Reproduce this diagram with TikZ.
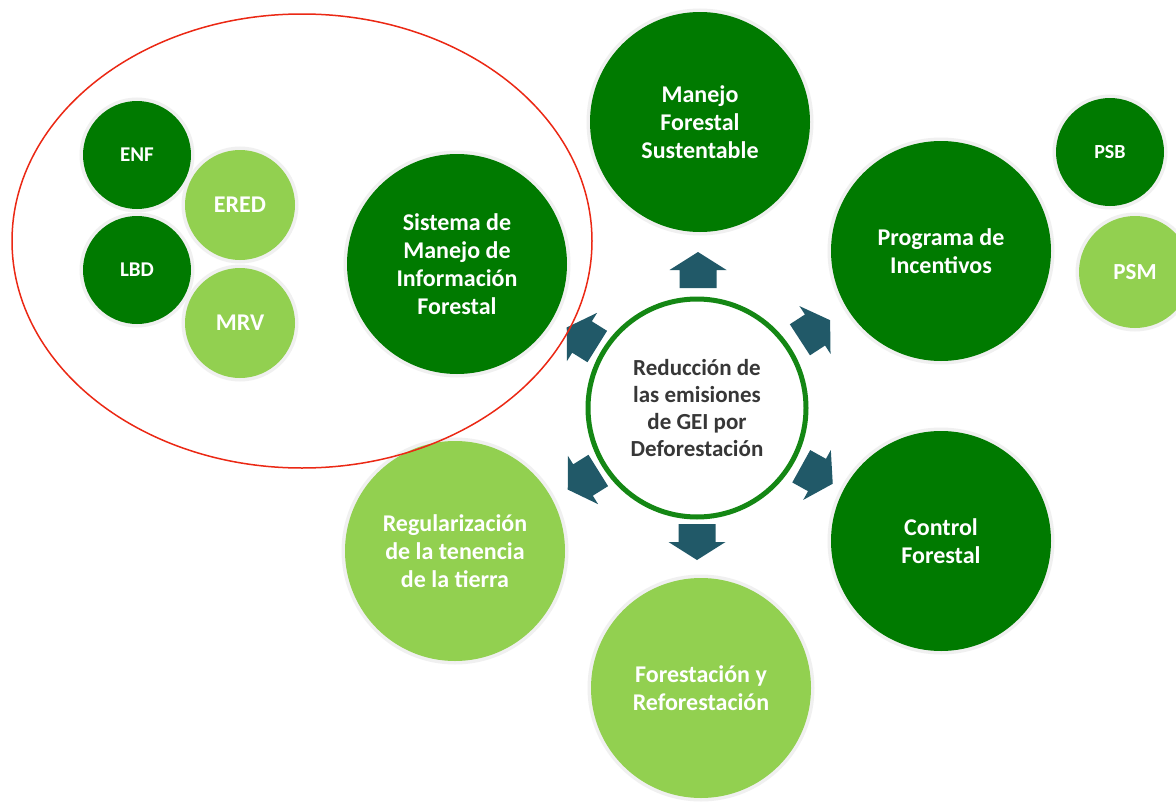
\documentclass[tikz,border=0pt]{standalone}
\usepackage{fontspec}
\setmainfont{Carlito}
\definecolor{dkgreen}{RGB}{0,122,0}
\definecolor{ltgreen}{RGB}{146,208,80}
\definecolor{ringgreen}{RGB}{20,135,20}
\definecolor{arrowteal}{RGB}{33,89,104}
\definecolor{txtgray}{RGB}{55,55,55}
\definecolor{ovalred}{RGB}{235,40,20}
\tikzset{
  bubble/.style={circle, inner sep=0pt, text=white, align=center,
    font=\bfseries\fontsize{24}{28}\selectfont,
    preaction={draw=black!6, line width=7pt}},
  bigdark/.style={bubble, fill=dkgreen, minimum size=220pt},
  biglight/.style={bubble, fill=ltgreen, minimum size=220pt},
  smalldark/.style={bubble, fill=dkgreen, minimum size=108pt, font=\bfseries\fontsize{21}{24}\selectfont},
  smalllight/.style={bubble, fill=ltgreen, minimum size=110pt, font=\bfseries\fontsize{24}{26}\selectfont},
  blockarrow/.style={fill=arrowteal},
}
\newcommand{\blockarr}[2]{%
  \begin{scope}[shift={#1}, rotate=#2]
    \fill[blockarrow] (-18,-18.5) -- (0,-18.5) -- (0,-28.5) -- (18,0) -- (0,28.5) -- (0,18.5) -- (-18,18.5) -- cycle;
  \end{scope}}
\begin{document}
\begin{tikzpicture}[x=1pt,y=1pt]
\useasboundingbox[fill=white] (0,0) rectangle (1176,-803);
% center
\node[circle, draw=ringgreen, line width=5pt, fill=white, minimum size=218pt, inner sep=0pt,
  align=center, text=txtgray, font=\bfseries\fontsize{23}{27}\selectfont] (c) at (697,-408)
  {Reducción de\\las emisiones\\de GEI por\\Deforestación};
% main bubbles
\node[bigdark] (mfs) at (700,-122) {Manejo\\Forestal\\Sustentable};
\node[bigdark] (pi) at (941,-251) {Programa de\\Incentivos};
\node[bigdark] (cf) at (941,-541) {Control\\Forestal};
\node[biglight] (fr) at (701,-688) {Forestación y\\Reforestación};
\node[biglight] (rt) at (455,-551) {Regularización\\de la tenencia\\de la tierra};
\node[bigdark] (smi) at (457,-264) {Sistema de\\Manejo de\\Información\\Forestal};
% small bubbles
\node[smalldark] (enf) at (137,-155) {ENF};
\node[smalldark] (lbd) at (137,-270) {LBD};
\node[smalllight] (ered) at (240,-205) {ERED};
\node[smalllight] (mrv) at (240,-323) {MRV};
\node[smalldark, font=\bfseries\fontsize{20}{24}\selectfont] (psb) at (1110,-152) {PSB};
\node[smalllight, minimum size=112pt, font=\bfseries\fontsize{23}{26}\selectfont] (psm) at (1135,-272) {PSM};
% arrows
\blockarr{(698,-270)}{90}
\blockarr{(815,-330)}{33}
\blockarr{(817,-475)}{-29}
\blockarr{(697,-542)}{-90}
\blockarr{(583,-480)}{212}
\blockarr{(582,-337)}{148}
% red oval
\draw[ovalred, line width=1.5pt] (302,-241) ellipse [x radius=290, y radius=227];
\end{tikzpicture}
\end{document}
